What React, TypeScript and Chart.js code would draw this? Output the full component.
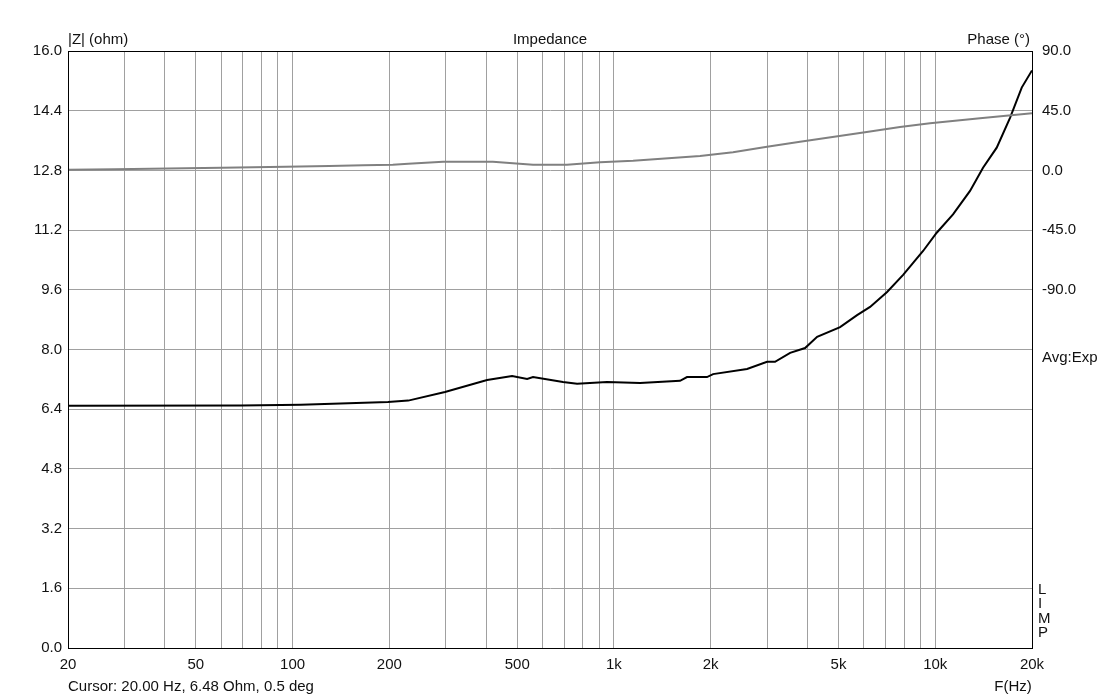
import React, { useEffect, useRef } from "react";
import { Chart, registerables } from "chart.js";

Chart.register(...registerables);

const impFreq = [20, 69, 106, 141, 198, 229, 298, 403, 482, 537, 560, 694, 768, 952, 1206, 1606, 1688, 1948, 2035, 2596, 2996, 3172, 3534, 3934, 4289, 5056, 5711, 6268, 7080, 7943, 8532, 9164, 10104, 11357, 12828, 14081, 15532, 17086, 18580, 20000];
const impOhm = [6.49, 6.5, 6.52, 6.55, 6.59, 6.63, 6.86, 7.18, 7.29, 7.21, 7.26, 7.13, 7.08, 7.13, 7.1, 7.16, 7.26, 7.26, 7.34, 7.48, 7.67, 7.67, 7.91, 8.04, 8.34, 8.6, 8.92, 9.14, 9.54, 10.0, 10.32, 10.64, 11.13, 11.62, 12.25, 12.87, 13.41, 14.21, 15.02, 15.48];

const phaseFreq = [20, 28, 60, 95, 130, 166, 205, 229, 294, 420, 485, 560, 714, 905, 1147, 1853, 2347, 2996, 3794, 6044, 7767, 9632, 13778, 20000];
const phaseDeg = [0.5, 0.8, 2.0, 2.8, 3.3, 3.8, 4.3, 5.0, 6.6, 6.6, 5.4, 4.3, 4.3, 6.1, 7.3, 10.9, 13.6, 17.9, 21.6, 28.7, 32.7, 35.5, 39.3, 43.0];

const xGrid = [20, 30, 40, 50, 60, 70, 80, 90, 100, 200, 300, 400, 500, 600, 700, 800, 900, 1000, 2000, 3000, 4000, 5000, 6000, 7000, 8000, 9000, 10000, 20000];
const xLabelValues = [20, 50, 100, 200, 500, 1000, 2000, 5000, 10000, 20000];
const xLabelTexts = ["20", "50", "100", "200", "500", "1k", "2k", "5k", "10k", "20k"];
const yLeftTicks = [0, 1.6, 3.2, 4.8, 6.4, 8.0, 9.6, 11.2, 12.8, 14.4, 16.0];
const yRightTicks = [90, 45, 0, -45, -90];

const FONT = "'Liberation Sans', Arial, sans-serif";

const textPlugin = {
  id: "texts",
  afterDraw(chart: any) {
    const { ctx, chartArea } = chart;
    const { left, right, top, bottom } = chartArea;
    ctx.save();
    ctx.strokeStyle = "#000";
    ctx.lineWidth = 1;
    ctx.strokeRect(left + 0.5, top + 0.5, right - left, bottom - top);
    ctx.fillStyle = "#111";
    ctx.font = `15px ${FONT}`;
    ctx.textBaseline = "middle";
    ctx.textAlign = "left";
    ctx.fillText("|Z| (ohm)", left, 40);
    ctx.textAlign = "center";
    ctx.fillText("Impedance", (left + right) / 2, 40);
    ctx.textAlign = "right";
    ctx.fillText("Phase (°)", right - 2, 40);
    ctx.textAlign = "left";
    ctx.fillText("Avg:Exp", right + 10, 358);
    const letters = ["L", "I", "M", "P"];
    letters.forEach((l, i) => ctx.fillText(l, right + 6, 590 + i * 14.3));
    ctx.fillText("Cursor: 20.00 Hz, 6.48 Ohm, 0.5 deg", left, 687);
    ctx.textAlign = "center";
    ctx.fillText("F(Hz)", right - 19, 687);
    ctx.restore();
  },
};

export default function App() {
  const ref = useRef<HTMLCanvasElement>(null);
  useEffect(() => {
    document.body.style.margin = "0";
    const chart = new Chart(ref.current!, {
      type: "line",
      data: {
        datasets: [
          {
            label: "Phase",
            data: phaseFreq.map((f, i) => ({ x: f, y: phaseDeg[i] })),
            yAxisID: "y1",
            borderColor: "#808080",
            borderWidth: 2,
            pointRadius: 0,
            tension: 0,
          },
          {
            label: "Impedance",
            data: impFreq.map((f, i) => ({ x: f, y: impOhm[i] })),
            yAxisID: "y",
            borderColor: "#000000",
            borderWidth: 2,
            pointRadius: 0,
            tension: 0,
          },
        ],
      },
      options: {
        animation: false,
        responsive: false,
        maintainAspectRatio: false,
        layout: { padding: { top: 51, left: 0, right: 0, bottom: 0 } },
        plugins: { legend: { display: false }, tooltip: { enabled: false }, title: { display: false } },
        scales: {
          x: {
            type: "logarithmic",
            min: 20,
            max: 20000,
            afterBuildTicks: (s: any) => {
              s.ticks = xGrid.map((v) => ({ value: v }));
            },
            afterFit: (s: any) => {
              s.height = 51;
            },
            ticks: {
              autoSkip: false,
              maxRotation: 0,
              minRotation: 0,
              padding: 8,
              color: "#111",
              font: { family: FONT, size: 15 },
              callback: (v: any) => {
                const idx = xLabelValues.indexOf(Number(v));
                return idx >= 0 ? xLabelTexts[idx] : "";
              },
            },
            grid: { color: "#a0a0a0", lineWidth: 1, drawTicks: false },
            border: { color: "#000" },
          },
          y: {
            type: "linear",
            position: "left",
            min: 0,
            max: 16,
            afterBuildTicks: (s: any) => {
              s.ticks = yLeftTicks.map((v) => ({ value: v }));
            },
            afterFit: (s: any) => {
              s.width = 68;
            },
            ticks: {
              padding: 6,
              color: "#111",
              font: { family: FONT, size: 15 },
              callback: (v: any) => Number(v).toFixed(1),
            },
            grid: { color: "#a0a0a0", lineWidth: 1, drawTicks: false },
            border: { color: "#000" },
          },
          y1: {
            type: "linear",
            position: "right",
            min: -360,
            max: 90,
            afterBuildTicks: (s: any) => {
              s.ticks = yRightTicks.map((v) => ({ value: v }));
            },
            afterFit: (s: any) => {
              s.width = 68;
            },
            ticks: {
              padding: 10,
              color: "#111",
              font: { family: FONT, size: 15 },
              callback: (v: any) => Number(v).toFixed(1),
            },
            grid: { display: false, drawTicks: false },
            border: { color: "#000" },
          },
        },
      },
      plugins: [textPlugin],
    });
    return () => chart.destroy();
  }, []);
  return (
    <div style={{ width: 1100, height: 699, background: "#fff" }}>
      <canvas ref={ref} width={1100} height={699} style={{ display: "block" }} />
    </div>
  );
}
